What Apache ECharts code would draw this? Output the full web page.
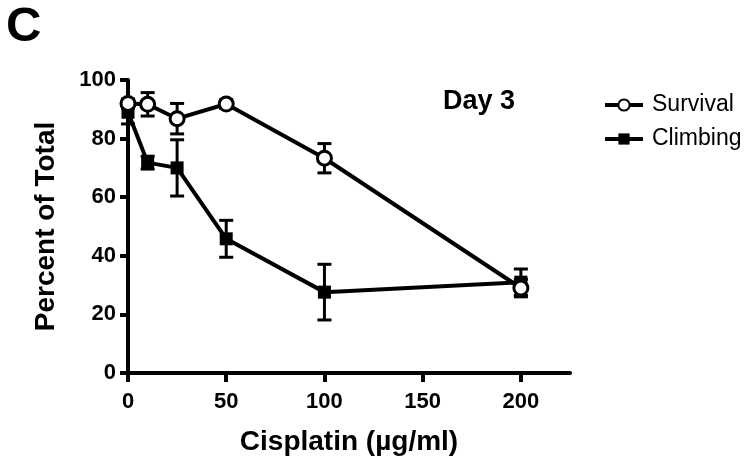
<!DOCTYPE html>
<html>
<head>
<meta charset="utf-8">
<script src="https://cdn.jsdelivr.net/npm/echarts@6/dist/echarts.min.js"></script>
<style>
html,body{margin:0;padding:0;background:#fff;}
#chart{width:750px;height:461px;}
</style>
</head>
<body>
<div id="chart"></div>
<script>
const doses = [0, 10, 25, 50, 100, 200];
const survivalMean = [92, 91.7, 86.8, 91.8, 73.3, 29];
const survivalErr  = [1.5, 4, 5.2, 1.5, 5, 3];
const climbingMean = [89, 71.8, 70, 45.8, 27.6, 31];
const climbingErr  = [4, 2.2, 9.6, 6.3, 9.5, 4.5];
const xTicks = [0, 50, 100, 150, 200];
const yTicks = [0, 20, 40, 60, 80, 100];

const FONT = 'Liberation Sans, Arial, sans-serif';

function pairs(xs, ys) { return xs.map((x, i) => [x, ys[i]]); }
function errData(xs, m, e) { return xs.map((x, i) => [x, m[i] - e[i], m[i] + e[i]]); }

function errRender(params, api) {
  const x = api.value(0), lo = api.value(1), hi = api.value(2);
  const a = api.coord([x, hi]), b = api.coord([x, lo]);
  const w = 7;
  const st = { stroke: '#000', lineWidth: 3 };
  return {
    type: 'group',
    children: [
      { type: 'line', shape: { x1: a[0], y1: a[1], x2: b[0], y2: b[1] }, style: st },
      { type: 'line', shape: { x1: a[0] - w, y1: a[1], x2: a[0] + w, y2: a[1] }, style: st },
      { type: 'line', shape: { x1: b[0] - w, y1: b[1], x2: b[0] + w, y2: b[1] }, style: st }
    ]
  };
}

const chart = echarts.init(document.getElementById('chart'), null, { renderer: 'canvas' });
chart.setOption({
  animation: false,
  backgroundColor: '#fff',
  textStyle: { fontFamily: FONT },
  grid: { left: 128, right: 180, top: 80, bottom: 87, containLabel: false },
  xAxis: {
    type: 'value', min: 0, max: 225, interval: 50,
    name: 'Cisplatin (µg/ml)', nameLocation: 'middle', nameGap: 55,
    nameTextStyle: { fontFamily: FONT, fontWeight: 'bold', fontSize: 28, color: '#000' },
    splitLine: { show: false },
    axisLine: { onZero: false, lineStyle: { color: '#000', width: 4 } },
    axisTick: { show: true, length: 9, lineStyle: { color: '#000', width: 4 }, customValues: xTicks },
    axisLabel: { customValues: xTicks, fontFamily: FONT, fontWeight: 'bold', fontSize: 22, color: '#000', margin: 18 }
  },
  yAxis: {
    type: 'value', min: 0, max: 100, interval: 20,
    name: 'Percent of Total', nameLocation: 'middle', nameGap: 68, nameRotate: 90,
    nameTextStyle: { fontFamily: FONT, fontWeight: 'bold', fontSize: 28, color: '#000' },
    splitLine: { show: false },
    axisLine: { onZero: false, lineStyle: { color: '#000', width: 4 } },
    axisTick: { show: true, length: 8, lineStyle: { color: '#000', width: 4 }, customValues: yTicks },
    axisLabel: { customValues: yTicks, fontFamily: FONT, fontWeight: 'bold', fontSize: 22, color: '#000', margin: 12 }
  },
  legend: {
    orient: 'vertical', left: 598, top: 88, itemWidth: 38, itemHeight: 14, itemGap: 10,
    data: ['Survival', 'Climbing'],
    lineStyle: { width: 4, color: '#000' },
    textStyle: { fontFamily: FONT, fontSize: 23, color: '#000', lineHeight: 24, padding: [0, 0, 0, 4] }
  },
  graphic: [
    { type: 'text', left: 6, top: 3, style: { text: 'C', fontFamily: FONT, fontWeight: 'bold', fontSize: 49, fill: '#000' } },
    { type: 'text', left: 443, top: 88, style: { text: 'Day 3', fontFamily: FONT, fontWeight: 'bold', fontSize: 27, fill: '#000' } }
  ],
  series: [
    {
      type: 'custom', name: 'survErr', renderItem: errRender, clip: false, z: 1,
      data: errData(doses, survivalMean, survivalErr), silent: true
    },
    {
      type: 'custom', name: 'climbErr', renderItem: errRender, clip: false, z: 1,
      data: errData(doses, climbingMean, climbingErr), silent: true
    },
    {
      type: 'line', name: 'Climbing', data: pairs(doses, climbingMean), z: 3,
      symbol: 'rect', symbolSize: 13, showAllSymbol: true,
      lineStyle: { color: '#000', width: 4 },
      itemStyle: { color: '#000', borderColor: '#000', borderWidth: 0 }
    },
    {
      type: 'line', name: 'Survival', data: pairs(doses, survivalMean), z: 4,
      symbol: 'circle', symbolSize: 14, showAllSymbol: true,
      lineStyle: { color: '#000', width: 4 },
      itemStyle: { color: '#fff', borderColor: '#000', borderWidth: 3 }
    }
  ]
});
</script>
</body>
</html>
